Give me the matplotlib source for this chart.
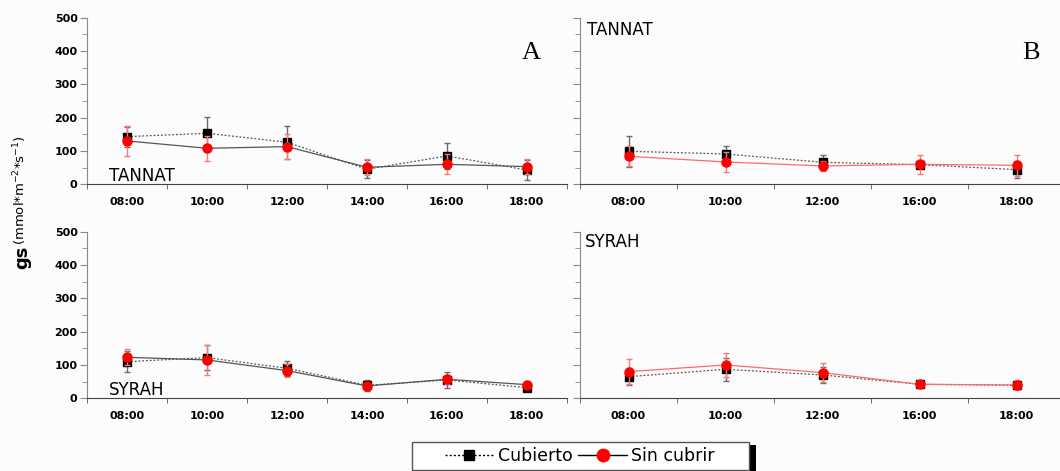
import numpy as np
import matplotlib.pyplot as plt
from matplotlib.lines import Line2D
from matplotlib.patches import Rectangle

horas_a = ['08:00', '10:00', '12:00', '14:00', '16:00', '18:00']
horas_b = ['08:00', '10:00', '12:00', '16:00', '18:00']

# Tannat, ensayo A
tannat_a_cub = [143, 153, 126, 45, 85, 43]
tannat_a_cub_err = [30, 48, 49, 27, 40, 31]
tannat_a_sin = [130, 108, 113, 51, 60, 53]
tannat_a_sin_err = [46, 38, 37, 24, 30, 22]

# Tannat, ensayo B
tannat_b_cub = [99, 91, 66, 59, 44]
tannat_b_cub_err = [47, 25, 23, 8, 25]
tannat_b_sin = [84, 67, 55, 60, 57]
tannat_b_sin_err = [30, 29, 14, 29, 32]

# Syrah, ensayo A
syrah_a_cub = [110, 122, 90, 39, 55, 32]
syrah_a_cub_err = [32, 38, 23, 16, 25, 6]
syrah_a_sin = [123, 115, 83, 37, 57, 41]
syrah_a_sin_err = [24, 45, 20, 10, 14, 10]

# Syrah, ensayo B
syrah_b_cub = [65, 87, 70, 42, 39]
syrah_b_cub_err = [25, 35, 23, 5, 5]
syrah_b_sin = [80, 100, 77, 42, 40]
syrah_b_sin_err = [37, 37, 29, 6, 14]

W, H = 1060, 471
BG = '#fcfcfc'


def panel(rect, horas, cub, cub_err, sin, sin_err, sin_color, show_ylabels):
    ax = fig.add_axes(rect)
    ax.set_facecolor(BG)
    x = np.arange(len(horas))

    ax.errorbar(x, cub, yerr=cub_err, fmt='none', ecolor='#6a6a6a',
                elinewidth=1, capsize=2.5, capthick=1, zorder=2)
    ax.plot(x, cub, color='#555555', ls=(0, (1.5, 1.5)), lw=0.9, marker='s',
            ms=5.5, mfc='black', mec='black', zorder=3)
    ax.errorbar(x, sin, yerr=sin_err, fmt='none', ecolor='#f27b7b',
                elinewidth=1, capsize=2.5, capthick=1, zorder=4)
    ax.plot(x, sin, color=sin_color, ls='-', lw=0.9, marker='o',
            ms=6.5, mfc='red', mec='red', zorder=5)

    ax.set_xlim(-0.5, len(horas) - 0.5)
    ax.set_ylim(0, 500)
    ax.set_xticks(x)
    ax.set_xticklabels(horas)
    ax.set_xticks(np.arange(-0.5, len(horas), 1), minor=True)
    ax.set_yticks(np.arange(0, 501, 100))
    ax.set_yticks(np.arange(50, 500, 100), minor=True)

    for s in ['top', 'right']:
        ax.spines[s].set_visible(False)
    ax.spines['left'].set_color('#8a8a8a')
    ax.spines['bottom'].set_color('#444444')

    ax.tick_params(axis='x', which='major', length=0, pad=9.5, labelsize=8)
    ax.tick_params(axis='x', which='minor', length=3.5, color='#555555')
    ax.tick_params(axis='y', which='major', length=5, color='#8a8a8a',
                   pad=2, labelsize=8, labelleft=show_ylabels)
    ax.tick_params(axis='y', which='minor', length=3.5, color='#8a8a8a')
    for lab in ax.get_xticklabels() + ax.get_yticklabels():
        lab.set_fontweight('bold')
    return ax


fig = plt.figure(figsize=(W / 100, H / 100), dpi=100, facecolor=BG)

top_b, low_b, ph = 1 - 184.3 / H, 1 - 398.3 / H, 166.7 / H
ax_l, ax_w = 87.3 / W, 479.4 / W
bx_l, bx_w = 580 / W, 485 / W

ax1 = panel([ax_l, top_b, ax_w, ph], horas_a, tannat_a_cub, tannat_a_cub_err,
            tannat_a_sin, tannat_a_sin_err, '#555555', True)
ax2 = panel([bx_l, top_b, bx_w, ph], horas_b, tannat_b_cub, tannat_b_cub_err,
            tannat_b_sin, tannat_b_sin_err, '#ff6b6b', False)
ax3 = panel([ax_l, low_b, ax_w, ph], horas_a, syrah_a_cub, syrah_a_cub_err,
            syrah_a_sin, syrah_a_sin_err, '#555555', True)
ax4 = panel([bx_l, low_b, bx_w, ph], horas_b, syrah_b_cub, syrah_b_cub_err,
            syrah_b_sin, syrah_b_sin_err, '#ff6b6b', False)

# variedad y ensayo
ax1.text(0.046, 0.022, 'TANNAT', transform=ax1.transAxes, fontsize=12, va='baseline')
ax2.text(0.014, 0.896, 'TANNAT', transform=ax2.transAxes, fontsize=12, va='baseline')
ax3.text(0.046, 0.020, 'SYRAH', transform=ax3.transAxes, fontsize=12, va='baseline')
ax4.text(0.010, 0.909, 'SYRAH', transform=ax4.transAxes, fontsize=12, va='baseline')
ax1.text(0.9266, 0.75, 'A', transform=ax1.transAxes, fontsize=19,
         family='Liberation Serif', ha='center', va='baseline')
ax2.text(0.93, 0.75, 'B', transform=ax2.transAxes, fontsize=19,
         family='Liberation Serif', ha='center', va='baseline')

# eje y compartido
fig.text(22 / W, 1 - 269 / H, 'gs', fontsize=13, fontweight='bold', rotation=90,
         rotation_mode='anchor', ha='left', va='center')
fig.text(20 / W, 1 - 245 / H, '(mmol*m$^{-2}$*s$^{-1}$)', fontsize=9.5, rotation=90,
         rotation_mode='anchor', ha='left', va='center')

# leyenda con sombra
fig.patches.append(Rectangle((419 / W, 1 - 473 / H), 337 / W, 28.3 / H,
                             transform=fig.transFigure, facecolor='black',
                             edgecolor='none', zorder=1))
fig.patches.append(Rectangle((412 / W, 1 - 470 / H), 337 / W, 28.3 / H,
                             transform=fig.transFigure, facecolor='white',
                             edgecolor='#555555', lw=1, zorder=2))
handles = [
    Line2D([], [], color='black', ls=(0, (1.5, 1.5)), lw=1, marker='s', ms=7,
           mfc='black', mec='black'),
    Line2D([], [], color='black', ls='-', lw=1, marker='o', ms=9,
           mfc='red', mec='red'),
]
leg = fig.legend(handles, ['Cubierto', 'Sin cubrir'], loc='center',
                 bbox_to_anchor=(0.547, 1 - 456 / H), ncol=2, frameon=False,
                 fontsize=12.5, handlelength=2.8, handletextpad=0.25,
                 columnspacing=0.35, borderpad=0)
leg.set_zorder(5)

fig.savefig('out.png', dpi=100, facecolor=BG)
